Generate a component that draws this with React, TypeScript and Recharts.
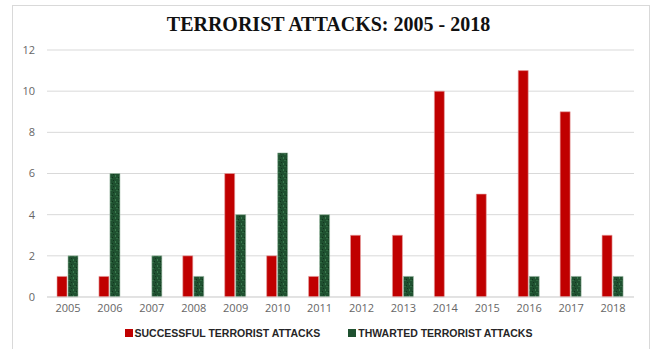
import React from "react";
import { BarChart, Bar, XAxis, YAxis, CartesianGrid } from "recharts";

const years = ["2005","2006","2007","2008","2009","2010","2011","2012","2013","2014","2015","2016","2017","2018"];
const successful = [1, 1, 0, 2, 6, 2, 1, 3, 3, 10, 5, 11, 9, 3];
const thwarted = [2, 6, 2, 1, 4, 7, 4, 0, 1, 0, 0, 1, 1, 1];
const yTicks = [0, 2, 4, 6, 8, 10, 12];
const seriesNames = ["SUCCESSFUL TERRORIST ATTACKS", "THWARTED TERRORIST ATTACKS"];
const title = "TERRORIST ATTACKS: 2005 - 2018";

const RED = "#C00000";
const GREEN = "#1F5130";

const data = years.map((y, i) => ({ year: y, successful: successful[i], thwarted: thwarted[i] }));

const tickStyle = { fontFamily: "'Open Sans', sans-serif", fontSize: 11, fill: "#666666" };

export default function App() {
  return (
    <div style={{ position: "absolute", left: 0, top: 0, width: 657, height: 349, background: "#fff", overflow: "hidden" }}>
      <div style={{ position: "absolute", left: 12, top: 5, width: 638, height: 360, border: "1px solid #d9d9d9", boxSizing: "border-box" }} />
      <div style={{ position: "absolute", left: 0, top: 12, width: 657, textAlign: "center", fontFamily: "'Liberation Serif', serif", fontWeight: 700, fontSize: 20, color: "#111", lineHeight: "24px" }}>
        {title}
      </div>
      <div style={{ position: "absolute", left: 0, top: 0 }}>
        <BarChart width={657} height={349} data={data} margin={{ top: 50, right: 23, bottom: 32, left: 17 }} barSize={10} barGap={1}>
          <defs>
            <pattern id="greenTex" patternUnits="userSpaceOnUse" width="6" height="6">
              <rect width="6" height="6" fill={GREEN} />
              <rect x="1" y="1" width="1" height="2" fill="#3a7a4e" />
              <rect x="4" y="3" width="1" height="1" fill="#10331c" />
              <rect x="2" y="4" width="2" height="1" fill="#2f6b42" />
              <rect x="5" y="0" width="1" height="1" fill="#12361f" />
            </pattern>
          </defs>
          <CartesianGrid vertical={false} stroke="#d9d9d9" strokeWidth={1} />
          <XAxis dataKey="year" axisLine={{ stroke: "#d9d9d9" }} tickLine={false} tickSize={0} tickMargin={7} tick={tickStyle} interval={0} height={20} />
          <YAxis domain={[0, 12]} ticks={yTicks} axisLine={false} tickLine={false} tickSize={0} tickMargin={12} tick={tickStyle} width={30} />
          <Bar dataKey="successful" fill={RED} stroke="#e6a3a3" strokeWidth={0.6} isAnimationActive={false} />
          <Bar dataKey="thwarted" fill="url(#greenTex)" stroke="#9dbca6" strokeWidth={0.6} isAnimationActive={false} />
        </BarChart>
      </div>
      <div style={{ position: "absolute", left: 0, top: 326, width: 657, display: "flex", justifyContent: "center", fontFamily: "'Liberation Sans', Arial, sans-serif", fontWeight: 700, fontSize: 10.5, color: "#262626", lineHeight: "14px" }}>
        <div style={{ display: "flex", alignItems: "center", marginLeft: 0 }}>
          <span style={{ display: "inline-block", width: 8, height: 8, background: RED, marginRight: 2 }} />
          <span>{seriesNames[0]}</span>
        </div>
        <div style={{ display: "flex", alignItems: "center", marginLeft: 28 }}>
          <span style={{ display: "inline-block", width: 8, height: 8, background: GREEN, marginRight: 2 }} />
          <span>{seriesNames[1]}</span>
        </div>
      </div>
    </div>
  );
}
